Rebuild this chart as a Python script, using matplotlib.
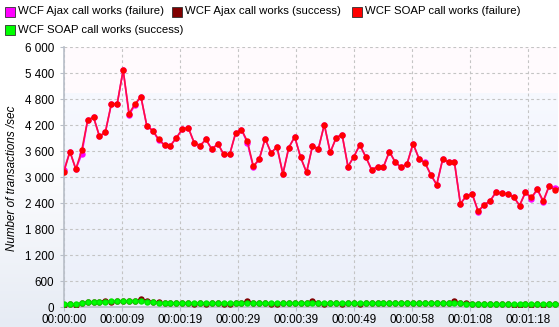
import numpy as np
import matplotlib
matplotlib.use("Agg")
import matplotlib.pyplot as plt
from matplotlib.patches import Rectangle
from matplotlib.colors import LinearSegmentedColormap

# transactions/sec, one sample per second
soap_fail = [3130, 3590, 3185, 3620, 4320, 4385, 3940, 4045, 4690, 4700,
             5475, 4470, 4690, 4860, 4185, 4075, 3875, 3740, 3730, 3910,
             4110, 4145, 3795, 3730, 3870, 3640, 3775, 3525, 3525, 4015,
             4100, 3825, 3255, 3415, 3890, 3560, 3700, 3075, 3685, 3930,
             3455, 3110, 3720, 3655, 4215, 3570, 3910, 3985, 3245, 3475,
             3745, 3470, 3170, 3240, 3240, 3590, 3345, 3225, 3315, 3775,
             3430, 3330, 3055, 2830, 3410, 3355, 3340, 2385, 2565, 2610,
             2215, 2360, 2445, 2650, 2630, 2610, 2545, 2345, 2650, 2530,
             2720, 2455, 2795, 2705, 2740]

ajax_fail = [3170, 3590, 3185, 3530, 4320, 4385, 3940, 4045, 4690, 4700,
             5475, 4430, 4670, 4860, 4185, 4075, 3855, 3740, 3730, 3910,
             4110, 4145, 3795, 3730, 3870, 3640, 3775, 3525, 3525, 4015,
             4100, 3790, 3230, 3415, 3890, 3560, 3700, 3075, 3685, 3930,
             3455, 3110, 3720, 3655, 4215, 3570, 3910, 3985, 3245, 3475,
             3745, 3470, 3170, 3240, 3240, 3590, 3345, 3225, 3315, 3775,
             3430, 3345, 3055, 2820, 3410, 3355, 3340, 2385, 2565, 2610,
             2200, 2360, 2445, 2650, 2630, 2610, 2545, 2345, 2650, 2500,
             2720, 2420, 2795, 2750, 2740]

soap_ok = [65, 72, 62, 95, 115, 118, 120, 125, 130, 130,
           140, 142, 140, 145, 125, 115, 100, 90, 88, 88,
           88, 90, 88, 88, 90, 88, 88, 90, 88, 90,
           92, 90, 88, 90, 88, 88, 90, 90, 88, 90,
           90, 88, 90, 88, 88, 90, 88, 88, 90, 90,
           88, 90, 88, 88, 90, 90, 88, 90, 90, 88,
           88, 90, 88, 88, 90, 88, 88, 85, 80, 78,
           78, 75, 75, 72, 72, 70, 70, 68, 68, 68,
           66, 66, 65, 65, 65]

ajax_ok = [40, 70, 40, 95, 115, 118, 125, 150, 110, 130,
           140, 142, 150, 180, 150, 120, 115, 90, 88, 88,
           88, 88, 70, 88, 70, 88, 88, 80, 60, 90,
           92, 135, 88, 90, 88, 75, 70, 90, 88, 90,
           90, 88, 140, 88, 75, 90, 88, 75, 90, 90,
           70, 90, 88, 88, 90, 90, 88, 90, 90, 88,
           88, 90, 88, 88, 90, 88, 130, 85, 100, 78,
           70, 70, 65, 72, 60, 70, 55, 38, 60, 55,
           66, 50, 65, 60, 65]

tick_labels = ['00:00:00', '00:00:09', '00:00:19', '00:00:29', '00:00:39',
               '00:00:49', '00:00:58', '00:01:08', '00:01:18']
tick_step = 9.8
y_ticks = list(range(0, 6001, 600))

legend_items = [('WCF Ajax call works (failure)', '#ff00ff'),
                ('WCF Ajax call works (success)', '#800000'),
                ('WCF SOAP call works (failure)', '#ff0000'),
                ('WCF SOAP call works (success)', '#00ff00')]

plt.rcParams['font.family'] = ['Liberation Sans', 'DejaVu Sans']

W, H = 559, 327
fig = plt.figure(figsize=(W / 100, H / 100), dpi=100)

# figure background: white fading to pale blue-grey at the bottom
bg = fig.add_axes([0, 0, 1, 1], zorder=-10)
bg.axis('off')
grad = np.ones((H, 1))
yy = np.arange(H)
grad[:, 0] = np.clip((yy - 150) / (H - 150), 0, 1)
cm_bg = LinearSegmentedColormap.from_list('bg', ['#ffffff', '#e6ebf4'])
bg.imshow(grad, aspect='auto', cmap=cm_bg, extent=[0, 1, 0, 1], origin='upper')

left, right, top, bottom = 64, 558, 47.3, 307
ax = fig.add_axes([left / W, 1 - bottom / H, (right - left) / W, (bottom - top) / H])
ax.set_facecolor('none')

x = np.arange(len(soap_fail))
xmax = 83.5

# plot background: pinkish top band, bluish gradient below
pg = np.linspace(0, 1, 200).reshape(-1, 1)
cm_pl = LinearSegmentedColormap.from_list('pl', ['#f7f9ff', '#ebeff9'])
ax.imshow(pg, aspect='auto', cmap=cm_pl, extent=[0, xmax, 0, 4950],
          origin='upper', zorder=0)
ax.axhspan(4950, 6000, color='#fffafd', zorder=0, lw=0)

ms = 3.6
lw = 1.2
ax.plot(x, ajax_fail, color='#ff00ff', lw=lw, marker='o', ms=ms, zorder=3)
ax.plot(x, ajax_ok, color='#800000', lw=lw, marker='o', ms=ms, zorder=3)
ax.plot(x, soap_fail, color='#ff1040', lw=lw, marker='o', ms=ms, mfc='#ff0000',
        mec='#ff0000', zorder=4)
ax.plot(x, soap_ok, color='#00e000', lw=lw, marker='o', ms=ms, mfc='#00ff00',
        mec='#00e600', zorder=4)

ax.set_xlim(0, xmax)
ax.set_ylim(0, 6000)
ax.set_xticks([tick_step * i for i in range(len(tick_labels))])
ax.set_xticklabels(tick_labels)
ax.set_yticks(y_ticks)
ax.set_yticklabels([f'{v:,}'.replace(',', ' ') for v in y_ticks])
ax.tick_params(labelsize=8.4, colors='#000000', length=3, width=0.8)
ax.tick_params(axis='x', pad=2)
ax.tick_params(axis='y', pad=4)
ax.tick_params(axis='both', color='#b8bec8')
ax.grid(True, color='#c4c4c4', ls=(0, (2.5, 2.5)), lw=0.8)
ax.set_axisbelow(True)
for s in ['top', 'right']:
    ax.spines[s].set_visible(False)
for s in ['left', 'bottom']:
    ax.spines[s].set_color('#b8bec8')
    ax.spines[s].set_linewidth(1.2)

fig.text(12 / W, 1 - 178 / H, 'Number of transactions /sec', rotation=90,
         style='italic', fontsize=8.4, ha='center', va='center')

# legend
pos = [(5, 11.5), (172, 11.5), (352, 11.5), (5, 30)]
for (label, col), (px, py) in zip(legend_items, pos):
    fig.patches.append(Rectangle((px / W, 1 - (py + 5) / H), 10 / W, 10 / H,
                                 transform=fig.transFigure, facecolor=col,
                                 edgecolor='#303030', lw=0.6))
    fig.text((px + 13) / W, 1 - py / H, label, fontsize=8.2, ha='left', va='center')

fig.savefig('out.png', dpi=100)
